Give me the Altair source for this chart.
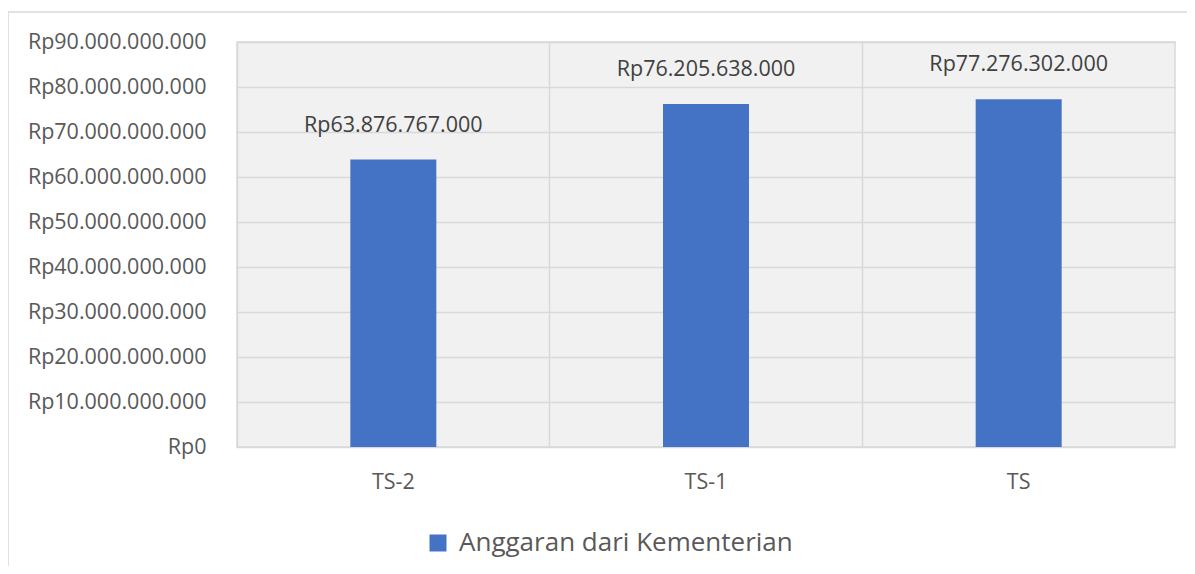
import altair as alt
import pandas as pd

categories = ["TS-2", "TS-1", "TS"]
values = [63876767000, 76205638000, 77276302000]
series_name = "Anggaran dari Kementerian"
y_ticks = [0, 10e9, 20e9, 30e9, 40e9, 50e9, 60e9, 70e9, 80e9, 90e9]

df = pd.DataFrame({"periode": categories, "anggaran": values, "seri": [series_name] * len(categories)})

FONT = "Open Sans"
GRID = "#d9d9d9"
BLUE = "#4472C4"
FS = 21.5

x = alt.X(
    "periode:N",
    sort=categories,
    scale=alt.Scale(paddingInner=0, paddingOuter=0),
    axis=alt.Axis(
        title=None, grid=True, bandPosition=0, gridColor=GRID, gridWidth=1.5,
        ticks=False, domain=False, labelAngle=0, labelFontSize=FS,
        labelColor="#595959", labelPadding=24, labelFont=FONT,
    ),
)
y = alt.Y(
    "anggaran:Q",
    scale=alt.Scale(domain=[0, 90e9], nice=False),
    axis=alt.Axis(
        title=None, values=y_ticks, format="$,d", grid=True, gridColor=GRID,
        gridWidth=1.5, ticks=False, domain=False, labelPadding=31,
        labelFontSize=FS, labelColor="#595959", labelFont=FONT,
    ),
)

frame = alt.Chart(pd.DataFrame({"k": [0]})).mark_rect(
    fill="transparent", stroke=GRID, strokeWidth=1.5, clip=False
).encode(
    x=alt.value(-229), x2=alt.value(1300), y=alt.value(-30), y2=alt.value(700)
)

bars = alt.Chart(df).mark_bar(width=alt.RelativeBandSize(0.275)).encode(
    x=x,
    y=y,
    color=alt.Color(
        "seri:N",
        scale=alt.Scale(range=[BLUE]),
        legend=alt.Legend(
            title=None, orient="none", legendX=188, legendY=488,
            symbolType="square", symbolSize=289, symbolStrokeWidth=0,
            labelFontSize=26, labelColor="#595959", labelFont=FONT,
            labelOffset=8, labelLimit=1000,
        ),
    ),
)

labels = alt.Chart(df).mark_text(
    dy=-28, baseline="alphabetic", fontSize=FS, color="#404040", font=FONT
).encode(
    x=alt.X("periode:N", sort=categories),
    y=alt.Y("anggaran:Q"),
    text=alt.Text("anggaran:Q", format="$,d"),
)

chart = alt.layer(frame, bars, labels).properties(
    width=938, height=405,
    autosize=alt.AutoSizeParams(type="none"),
    padding={"left": 229, "top": 34, "right": 12, "bottom": 119},
).configure(font=FONT).configure_view(
    stroke=GRID, strokeWidth=1.5, fill="#f1f1f1"
)

chart.save(
    "out.html",
    embed_options={
        "renderer": "svg",
        "actions": False,
        "formatLocale": {
            "decimal": ",",
            "thousands": ".",
            "grouping": [3],
            "currency": ["Rp", ""],
        },
    },
)
